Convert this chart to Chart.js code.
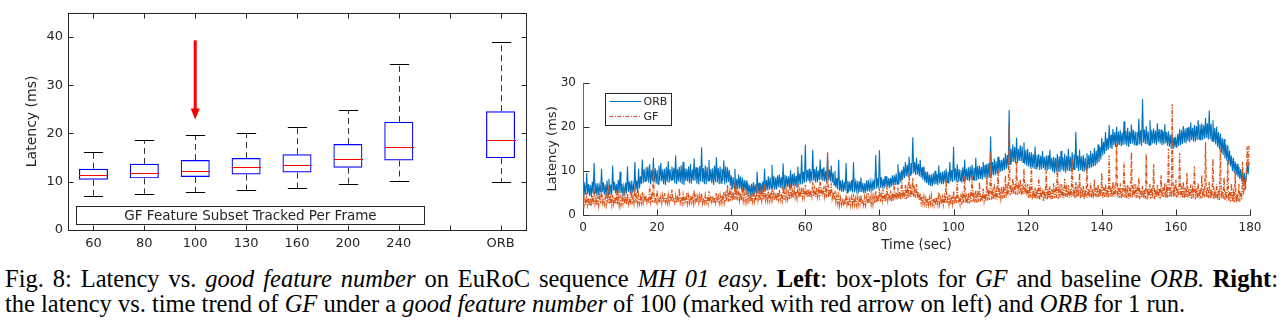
<!DOCTYPE html>
<html>
<head>
<meta charset="utf-8">
<title>Latency vs. good feature number</title>
<script src="https://cdn.jsdelivr.net/npm/chart.js@4.4.1/dist/chart.umd.min.js"></script>
<style>
  html, body { margin: 0; padding: 0; background: #fff; }
  body { width: 1283px; height: 324px; position: relative; overflow: hidden; }
  #boxChart { position: absolute; left: 0; top: 0; }
  #timeChart { position: absolute; left: 540px; top: 60px; }
  .caption { position: absolute; left: 5px; width: 1273px; font-family: "Liberation Serif", "Times New Roman", serif; font-size: 24.5px; line-height: 25px; color: #000; white-space: nowrap; }
  #cap1 { top: 266px; text-align: justify; text-align-last: justify; white-space: normal; }
  #cap2 { top: 291px; }
</style>
</head>
<body>
<canvas id="boxChart" width="540" height="255"></canvas>
<canvas id="timeChart" width="743" height="195"></canvas>
<div class="caption" id="cap1">Fig. 8: Latency vs. <i>good feature number</i> on EuRoC sequence <i>MH 01 easy</i>. <b>Left</b>: box-plots for <i>GF</i> and baseline <i>ORB</i>. <b>Right</b>:</div>
<div class="caption" id="cap2">the latency vs. time trend of <i>GF</i> under a <i>good feature number</i> of 100 (marked with red arrow on left) and <i>ORB</i> for 1 run.</div>

<script>
// ===== Box-plot data (left) =====
const boxCategories = ['60', '80', '100', '130', '160', '200', '240', '', 'ORB'];
const whiskerLow  = [7.1, 7.5, 7.9, 8.3, 8.7, 9.5, 10.2, null, 10.0];
const quartile1   = [10.4, 10.7, 11.0, 11.5, 11.9, 12.9, 14.4, null, 14.9];
const medians     = [11.4, 11.9, 12.3, 13.0, 13.4, 14.8, 17.2, null, 18.7];
const quartile3   = [12.7, 13.7, 14.5, 14.9, 15.7, 17.8, 22.4, null, 24.6];
const whiskerHigh = [16.1, 18.6, 19.7, 20.1, 21.3, 24.9, 34.3, null, 39.0];
const latencyTicks = [0, 10, 20, 30, 40];

// red arrow marks the GF-100 setting
const arrowCategory = '100';
const arrowFrom = 39.3;
const arrowTo = 22.9;

// ===== Time series data (right), one sample every 0.25 s =====
const sampleStep = 0.25;
const timeTicks = [0, 20, 40, 60, 80, 100, 120, 140, 160, 180];
const orbLatency = [
  7.5,4.2,6.4,4.6, 9.5,4.8,7.0,4.3, 6.8,4.0,7.6,4.9, 11.8,5.0,7.2,4.4, 7.2,4.5,6.6,5.1, 10.5,5.2,7.4,4.6, 6.9,4.3,7.8,4.8, 8.2,4.8,6.9,4.5, 11.2,5.5,7.5,4.9, 7.0,4.6,8.0,5.0,
  9.8,5.0,7.1,4.7, 6.5,4.4,7.3,4.9, 11.0,5.3,7.6,4.8, 7.8,4.9,7.0,5.2, 12.0,5.6,7.8,5.0, 10.5,6.0,8.8,7.0, 12.6,7.2,10.4,7.6, 10.8,7.8,11.0,7.3, 11.5,6.9,10.2,7.7, 13.0,7.5,10.6,7.1,
  10.2,7.0,11.2,7.8, 11.8,7.6,10.3,7.0, 10.5,6.8,10.9,7.5, 12.2,7.3,10.4,7.9, 11.0,7.9,10.7,7.2, 13.5,7.0,10.5,7.6, 10.9,7.4,11.3,7.0, 12.0,6.8,10.6,7.7, 10.4,7.6,11.0,7.2, 11.6,7.1,10.3,7.8,
  12.8,7.8,10.8,7.1, 10.7,6.9,11.1,7.6, 15.3,7.5,10.6,7.0, 11.2,7.0,10.9,7.7, 12.5,7.7,10.4,7.2, 10.6,6.8,11.2,7.5, 13.1,7.4,10.7,7.0, 11.0,7.2,10.5,7.8, 12.4,6.9,11.0,7.3, 10.8,7.5,10.2,6.6,
  9.0,5.8,8.6,6.2, 10.5,5.5,8.2,5.9, 9.2,6.0,8.7,5.6, 8.5,5.2,8.0,5.5, 7.8,4.8,7.2,5.0, 6.8,4.2,7.1,4.6, 7.5,4.6,6.9,4.9, 9.8,5.0,7.3,4.7, 7.2,4.8,7.6,5.2, 10.5,5.4,7.9,5.6,
  8.8,5.6,8.5,6.0, 11.4,6.0,8.9,5.7, 8.5,5.8,9.0,6.3, 9.2,6.2,8.6,5.9, 11.7,5.9,9.1,6.4, 8.9,6.3,8.7,6.0, 10.2,6.0,9.3,6.6, 9.5,6.5,8.9,6.2, 11.0,6.8,9.4,6.9, 13.6,7.0,9.8,7.3,
  16.0,7.5,10.2,7.8, 10.5,7.2,9.9,7.6, 14.8,7.8,10.4,7.4, 11.0,7.4,10.1,7.9, 12.6,8.0,10.5,7.7, 10.8,7.6,10.0,7.3, 13.8,7.9,10.3,7.6, 11.2,7.3,9.6,6.8, 10.0,6.2,8.4,5.8, 12.5,5.5,7.8,5.3,
  8.0,5.2,7.5,5.5, 11.8,5.0,7.7,5.3, 7.6,5.4,7.9,5.1, 12.0,5.1,7.4,5.6, 7.8,4.8,7.6,5.2, 8.5,5.2,7.3,5.0, 7.2,5.0,7.8,5.4, 8.0,5.3,7.5,5.6, 7.5,5.5,8.0,5.8, 13.6,6.0,8.3,6.2,
  14.7,6.2,8.6,6.0, 8.2,6.0,8.8,6.4, 8.8,6.3,8.4,6.1, 8.5,6.5,9.0,6.7, 9.0,6.8,9.4,7.0, 11.5,7.0,9.8,7.5, 10.2,8.0,11.0,8.4, 12.0,8.8,11.4,8.6, 13.2,9.0,11.8,9.3, 17.6,9.5,12.0,9.1,
  13.0,9.2,11.6,8.8, 12.5,8.5,10.8,8.0, 11.0,7.5,9.9,7.2, 9.8,6.8,9.2,6.6, 9.2,6.5,9.5,6.9, 10.0,7.0,9.3,6.8, 11.2,7.2,9.7,7.0, 9.8,7.0,10.1,7.3, 10.5,7.4,9.8,7.1, 12.0,7.6,10.2,7.5,
  15.5,7.8,10.6,7.6, 11.5,7.5,10.4,7.8, 10.2,7.3,10.8,7.5, 12.6,7.8,10.5,7.9, 10.8,7.6,11.0,8.0, 11.4,8.0,10.7,7.7, 13.0,7.8,11.1,8.2, 11.2,8.2,10.9,8.0, 12.0,8.5,11.4,8.3, 11.6,8.3,11.8,8.6,
  17.8,8.8,12.0,9.0, 12.8,9.0,12.2,9.3, 13.2,9.5,12.5,9.8, 12.5,10.0,13.0,10.2, 14.0,10.5,13.6,10.8, 23.8,11.5,15.0,12.0, 16.0,12.0,15.4,11.7, 17.5,11.8,15.0,12.3, 15.8,12.2,15.6,11.9, 16.5,11.5,14.8,11.2,
  15.0,11.0,14.2,10.7, 14.2,10.8,13.8,10.5, 15.5,10.5,13.6,10.9, 13.8,10.2,13.4,10.4, 14.5,10.6,13.2,10.1, 13.5,10.0,13.5,10.4, 14.8,10.3,13.0,9.8, 13.2,9.5,12.9,10.0, 13.8,9.8,13.3,9.7, 14.5,10.2,13.1,9.9,
  13.9,9.6,13.4,10.1, 15.0,10.0,13.2,9.8, 14.2,10.4,13.7,10.2, 18.9,10.6,13.5,10.0, 14.8,10.2,13.3,9.9, 13.6,9.8,13.0,10.3, 14.0,10.5,13.6,10.6, 14.5,10.8,14.0,11.0, 15.2,11.2,14.6,11.6, 16.0,12.0,15.4,12.6,
  17.5,13.5,16.6,13.9, 18.8,14.5,17.4,14.8, 20.4,15.2,18.2,15.0, 19.5,15.8,18.8,15.4, 20.0,15.5,19.0,15.9, 19.2,15.6,18.7,15.9, 21.2,16.0,19.1,15.7, 19.8,15.4,18.9,16.1, 20.5,16.2,19.3,15.8, 19.0,15.8,18.8,16.0,
  21.8,16.0,19.2,15.7, 26.3,16.4,19.4,16.1, 20.2,16.0,19.0,15.8, 21.5,15.8,19.3,16.2, 19.6,16.2,19.1,15.9, 20.8,16.5,19.5,16.2, 19.4,15.9,19.0,16.0, 20.6,16.3,18.8,15.7, 19.0,15.5,18.2,15.2, 18.5,15.0,17.6,15.3,
  17.2,15.2,18.4,15.6, 19.5,15.8,19.2,16.1, 20.2,16.4,19.6,16.3, 19.8,16.8,20.0,16.5, 21.0,17.0,19.8,16.7, 20.4,16.6,20.2,17.0, 21.5,17.2,20.5,16.9, 20.8,17.0,20.4,17.3, 22.0,17.5,20.8,17.1, 23.7,17.2,20.6,16.8,
  21.5,16.5,19.8,16.0, 20.0,15.5,18.8,15.0, 18.5,14.0,17.5,13.6, 17.2,12.8,16.0,12.3, 15.8,11.5,14.6,11.0, 13.5,10.0,13.0,9.6, 12.2,9.0,11.6,8.6, 11.0,8.2,10.4,7.6, 10.0,6.8,9.5,7.2, 8.5,11.5,9.2,12.0
];
const gfLatency = [
  4.2,2.0,3.6,2.3, 5.0,2.4,3.9,2.1, 3.8,2.0,4.3,2.5, 5.8,2.6,3.7,2.2, 4.4,2.2,4.1,2.6, 6.2,2.8,3.8,2.4, 4.0,2.3,4.4,2.7, 6.8,2.5,4.0,2.3, 4.6,2.6,3.9,2.5, 5.5,2.4,4.2,2.2,
  4.2,2.3,3.8,2.6, 6.0,2.5,4.3,2.4, 4.8,2.6,3.9,2.3, 5.6,2.4,4.1,2.7, 6.4,2.8,4.4,2.5, 4.5,2.6,4.0,2.8, 5.2,2.8,4.2,3.0, 4.4,2.9,3.9,2.7, 6.5,3.0,4.3,2.9, 11.0,2.8,4.0,3.0,
  5.5,3.0,4.1,2.8, 4.2,2.7,4.4,2.9, 5.0,2.9,3.9,2.7, 4.5,2.8,4.2,3.0, 5.8,3.0,4.0,2.8, 4.3,2.7,4.5,2.9, 6.0,2.9,4.1,2.7, 4.6,2.8,3.8,3.0, 5.1,2.7,4.3,2.8, 4.4,2.9,4.0,2.7,
  5.6,3.0,4.2,2.8, 4.2,2.8,4.4,2.9, 4.9,2.7,3.9,2.8, 4.5,2.9,4.1,2.7, 5.4,2.8,4.3,3.0, 4.3,2.7,4.0,2.8, 5.0,2.9,4.2,2.7, 4.4,2.8,4.5,3.0, 5.2,3.0,4.6,3.1, 6.8,3.0,5.0,3.2,
  6.5,3.2,5.2,3.4, 7.2,3.5,5.4,3.3, 5.8,3.4,5.0,3.2, 6.4,3.3,4.8,3.1, 5.0,3.0,4.6,3.2, 4.8,3.0,4.4,3.1, 5.5,3.1,4.5,3.3, 6.8,3.4,4.7,3.2, 5.2,3.2,4.9,3.4, 7.0,3.5,4.8,3.3,
  5.4,3.3,5.0,3.5, 6.2,3.6,4.9,3.4, 5.0,3.2,5.1,3.6, 5.8,3.5,4.8,3.3, 6.5,3.4,5.2,3.7, 5.6,3.6,5.0,3.5, 7.2,3.8,5.4,3.9, 6.0,4.0,5.3,3.8, 7.0,3.9,5.6,4.1, 6.4,4.0,5.5,4.2,
  6.8,4.2,5.8,4.0, 5.9,4.0,5.6,4.3, 7.5,4.3,6.0,4.1, 6.2,4.1,5.7,4.4, 8.0,4.4,6.1,4.2, 6.6,4.2,5.9,4.0, 14.2,4.0,5.8,4.1, 7.2,3.8,5.2,3.4, 5.5,3.0,4.4,2.6, 4.4,2.2,3.8,2.4,
  3.8,2.0,3.6,2.3, 4.6,2.3,3.5,2.1, 3.6,2.1,3.9,2.4, 4.8,2.4,3.7,2.2, 3.9,2.2,3.8,2.5, 4.5,2.5,3.6,2.3, 4.0,2.3,4.0,2.6, 5.0,2.6,3.9,2.4, 4.2,2.4,4.2,2.7, 5.4,2.8,4.4,3.0,
  6.2,3.0,4.6,3.2, 5.8,3.2,4.8,3.1, 6.5,3.4,4.9,3.3, 5.6,3.0,5.0,3.2, 7.0,3.5,5.2,3.4, 6.2,3.6,5.4,3.5, 8.2,3.8,5.6,3.7, 6.8,3.6,5.8,3.9, 9.5,4.0,6.0,4.1, 8.4,4.2,5.8,3.9,
  7.0,3.8,5.2,3.4, 5.0,2.8,4.2,2.6, 4.2,2.5,3.8,2.4, 3.8,2.3,3.9,2.5, 4.4,2.4,3.7,2.3, 3.9,2.2,4.0,2.5, 5.2,2.5,3.8,2.4, 4.0,2.3,4.1,2.6, 8.0,2.6,3.9,2.4, 4.6,2.4,4.2,2.6,
  5.4,2.5,4.3,2.7, 7.8,2.7,4.1,2.5, 4.8,2.4,4.4,2.8, 8.8,2.8,4.2,2.6, 5.0,2.6,4.5,2.9, 9.2,3.0,4.6,2.8, 5.6,2.8,4.7,3.0, 7.5,3.0,4.5,3.2, 6.0,3.2,4.8,3.1, 8.5,3.3,5.0,3.4,
  14.2,3.5,5.2,3.6, 7.0,3.6,5.4,3.5, 10.5,3.8,5.3,3.7, 6.5,3.7,5.6,3.9, 9.0,4.0,6.0,4.3, 20.3,4.5,6.8,4.8, 8.3,4.8,7.0,4.6, 12.0,4.6,6.6,4.9, 8.0,4.5,6.9,4.7, 10.5,4.8,6.4,4.4,
  7.0,3.8,5.8,4.0, 11.5,3.5,5.6,3.8, 6.2,3.6,5.9,3.7, 8.5,3.4,5.5,3.9, 6.0,3.2,5.7,3.6, 10.0,3.5,5.4,3.8, 6.5,3.6,5.8,3.7, 7.2,3.8,5.6,3.9, 12.0,3.7,5.9,4.0, 7.0,4.0,5.7,3.8,
  8.2,4.2,6.0,3.9, 6.8,3.9,5.8,4.1, 13.0,4.1,6.1,3.8, 7.5,4.0,5.9,4.2, 9.5,3.8,6.2,4.0, 6.6,3.6,5.8,3.9, 11.0,3.9,6.0,4.1, 7.2,4.0,5.9,3.8, 8.0,4.2,6.2,4.0, 6.8,4.0,6.0,4.2,
  9.5,3.8,6.3,4.1, 7.0,4.0,6.1,3.9, 13.5,4.2,6.4,4.0, 7.5,4.1,6.0,4.3, 16.0,4.0,6.2,3.9, 7.2,3.8,6.1,4.1, 12.0,4.0,5.9,3.8, 6.8,3.7,6.2,4.0, 14.2,3.9,6.0,4.2, 7.0,3.8,5.8,4.0,
  8.5,3.6,6.0,3.9, 6.6,3.8,5.7,3.7, 13.8,3.5,5.9,4.0, 7.0,3.7,6.1,3.8, 11.5,3.6,5.8,4.0, 6.8,3.9,6.0,3.7, 9.0,4.0,6.2,4.1, 7.2,3.8,5.9,3.9, 15.0,4.2,6.3,4.0, 25.1,4.0,6.0,4.2,
  8.0,3.9,6.1,4.0, 14.0,4.1,5.9,3.8, 7.5,3.8,6.2,4.1, 9.5,4.0,6.0,3.9, 6.9,3.7,5.8,4.0, 11.0,3.6,6.1,3.8, 7.2,3.8,5.9,3.7, 9.0,3.9,6.0,4.0, 16.5,4.0,6.2,3.8, 7.5,3.8,5.8,3.9,
  12.8,3.6,5.7,3.7, 7.0,3.5,5.6,3.4, 15.0,3.8,5.8,3.6, 8.5,3.4,5.4,3.3, 12.5,3.2,5.2,3.0, 7.2,3.0,5.0,2.9, 9.8,2.8,4.8,3.0, 7.0,3.0,5.5,3.6, 12.0,4.5,8.0,5.5, 9.5,15.5,11.0,16.0
];

const AXIS_TEXT = '#262626';
const ORB_BLUE = '#0072BD';
const GF_ORANGE = '#D95319';

// ===== Box plot extras: whiskers, medians, arrow, frame =====
const boxPlotPlugin = {
  id: 'boxPlotExtras',
  afterDatasetsDraw(chart) {
    const { ctx, chartArea: area, scales: { x, y } } = chart;
    const step = x.getPixelForValue(1) - x.getPixelForValue(0);
    const halfBox = step * 0.285;
    const halfCap = step * 0.19;
    ctx.save();

    boxCategories.forEach((cat, i) => {
      if (medians[i] == null) return;
      const cx = Math.round(x.getPixelForValue(i)) + 0.5;

      // dashed whiskers
      ctx.strokeStyle = '#333';
      ctx.lineWidth = 1;
      ctx.setLineDash([6, 4]);
      ctx.beginPath();
      ctx.moveTo(cx, y.getPixelForValue(quartile3[i]));
      ctx.lineTo(cx, y.getPixelForValue(whiskerHigh[i]));
      ctx.moveTo(cx, y.getPixelForValue(quartile1[i]));
      ctx.lineTo(cx, y.getPixelForValue(whiskerLow[i]));
      ctx.stroke();

      // caps
      ctx.setLineDash([]);
      ctx.strokeStyle = '#000';
      ctx.beginPath();
      [whiskerHigh[i], whiskerLow[i]].forEach(v => {
        const py = Math.round(y.getPixelForValue(v)) + 0.5;
        ctx.moveTo(cx - halfCap, py);
        ctx.lineTo(cx + halfCap, py);
      });
      ctx.stroke();

      // median
      const my = Math.round(y.getPixelForValue(medians[i])) + 0.5;
      ctx.strokeStyle = '#ff0000';
      ctx.beginPath();
      ctx.moveTo(cx - halfBox, my);
      ctx.lineTo(cx + halfBox, my);
      ctx.stroke();
    });

    // red arrow
    const ax = x.getPixelForValue(boxCategories.indexOf(arrowCategory));
    const yFrom = y.getPixelForValue(arrowFrom);
    const yTip = y.getPixelForValue(arrowTo);
    ctx.strokeStyle = '#ff0000';
    ctx.fillStyle = '#ff0000';
    ctx.lineWidth = 3;
    ctx.beginPath();
    ctx.moveTo(ax, yFrom);
    ctx.lineTo(ax, yTip - 8);
    ctx.stroke();
    ctx.beginPath();
    ctx.moveTo(ax - 4.5, yTip - 11);
    ctx.lineTo(ax + 4.5, yTip - 11);
    ctx.lineTo(ax, yTip);
    ctx.closePath();
    ctx.fill();

    // label box along the bottom
    const bx1 = Math.round(x.getPixelForValue(-0.34)) + 0.5;
    const bx2 = Math.round(x.getPixelForValue(6.5)) + 0.5;
    const by1 = Math.round(y.getPixelForValue(4.94)) + 0.5;
    const by2 = Math.round(y.getPixelForValue(1.16)) + 0.5;
    ctx.lineWidth = 1;
    ctx.strokeStyle = '#262626';
    ctx.strokeRect(bx1, by1, bx2 - bx1, by2 - by1);
    ctx.fillStyle = AXIS_TEXT;
    ctx.font = '13.5px "DejaVu Sans"';
    ctx.textAlign = 'center';
    ctx.textBaseline = 'middle';
    ctx.fillText('GF Feature Subset Tracked Per Frame', (bx1 + bx2) / 2, (by1 + by2) / 2 + 1);

    // frame with inward ticks
    const L = Math.round(area.left) + 0.5, R = Math.round(area.right) + 0.5;
    const T = Math.round(area.top) + 0.5, B = Math.round(area.bottom) + 0.5;
    ctx.strokeStyle = '#262626';
    ctx.strokeRect(L, T, R - L, B - T);
    ctx.beginPath();
    latencyTicks.forEach(v => {
      const py = Math.round(y.getPixelForValue(v)) + 0.5;
      ctx.moveTo(L, py); ctx.lineTo(L + 5, py);
      ctx.moveTo(R, py); ctx.lineTo(R - 5, py);
    });
    boxCategories.forEach((c, i) => {
      const px = Math.round(x.getPixelForValue(i)) + 0.5;
      ctx.moveTo(px, B); ctx.lineTo(px, B - 5);
      ctx.moveTo(px, T); ctx.lineTo(px, T + 5);
    });
    ctx.stroke();
    ctx.restore();
  }
};

new Chart(document.getElementById('boxChart'), {
  type: 'bar',
  data: {
    labels: boxCategories,
    datasets: [{
      data: quartile1.map((v, i) => v == null ? null : [v, quartile3[i]]),
      backgroundColor: 'rgba(0,0,0,0)',
      borderColor: '#0000ff',
      borderWidth: 1.2,
      borderSkipped: false,
      categoryPercentage: 1,
      barPercentage: 0.57
    }]
  },
  options: {
    responsive: false,
    animation: false,
    layout: { padding: { top: 9, right: 14, left: 0, bottom: 0 } },
    plugins: { legend: { display: false }, tooltip: { enabled: false } },
    scales: {
      x: {
        grid: { display: false, drawTicks: false },
        border: { display: false },
        ticks: { color: AXIS_TEXT, font: { family: 'DejaVu Sans', size: 13 }, padding: 6, maxRotation: 0, autoSkip: false },
        afterFit: s => { s.height = 25; }
      },
      y: {
        min: 0,
        max: 45,
        grid: { display: false, drawTicks: false },
        border: { display: false },
        afterBuildTicks: s => { s.ticks = latencyTicks.map(v => ({ value: v })); },
        ticks: { color: AXIS_TEXT, font: { family: 'DejaVu Sans', size: 13 }, padding: 5 },
        title: { display: true, text: 'Latency (ms)', color: AXIS_TEXT, font: { family: 'DejaVu Sans', size: 14 }, padding: { top: 23.6 } },
        afterFit: s => { s.width = 68; }
      }
    }
  },
  plugins: [boxPlotPlugin]
});

// ===== Time series axes + legend =====
const timeAxesPlugin = {
  id: 'timeAxes',
  afterDraw(chart) {
    const { ctx, chartArea: area, scales: { x, y } } = chart;
    const L = Math.round(area.left) + 0.5, B = Math.round(area.bottom) + 0.5;
    ctx.save();
    ctx.lineWidth = 1;
    ctx.strokeStyle = '#666';
    ctx.beginPath();
    ctx.moveTo(L, Math.round(area.top));
    ctx.lineTo(L, B);
    ctx.lineTo(Math.round(area.right) + 1, B);
    ctx.stroke();
    ctx.strokeStyle = '#333';
    ctx.beginPath();
    latencyTicks.slice(0, 4).forEach(v => {
      const py = Math.round(y.getPixelForValue(v)) + 0.5;
      ctx.moveTo(L, py); ctx.lineTo(L + 6, py);
    });
    timeTicks.forEach(t => {
      const px = Math.round(x.getPixelForValue(t)) + 0.5;
      ctx.moveTo(px, B); ctx.lineTo(px, B - 6);
    });
    ctx.stroke();

    // legend box in the upper left
    const lx = Math.round(area.left + 21.6) + 0.5;
    const ly = Math.round(area.top + 10.6) + 0.5;
    ctx.fillStyle = '#fff';
    ctx.fillRect(lx, ly, 66, 32);
    ctx.strokeStyle = '#262626';
    ctx.strokeRect(lx, ly, 66, 32);
    ctx.lineWidth = 1;
    ctx.strokeStyle = ORB_BLUE;
    ctx.beginPath();
    ctx.moveTo(lx + 4, ly + 8); ctx.lineTo(lx + 36, ly + 8);
    ctx.stroke();
    ctx.strokeStyle = GF_ORANGE;
    ctx.setLineDash([4, 1.5, 1, 1.5]);
    ctx.beginPath();
    ctx.moveTo(lx + 4, ly + 23); ctx.lineTo(lx + 36, ly + 23);
    ctx.stroke();
    ctx.setLineDash([]);
    ctx.fillStyle = AXIS_TEXT;
    ctx.font = '11px "DejaVu Sans"';
    ctx.textAlign = 'left';
    ctx.textBaseline = 'middle';
    ctx.fillText('ORB', lx + 38, ly + 8.5);
    ctx.fillText('GF', lx + 38, ly + 23.5);
    ctx.restore();
  }
};

new Chart(document.getElementById('timeChart'), {
  type: 'line',
  data: {
    datasets: [
      {
        label: 'ORB',
        data: orbLatency.map((v, i) => ({ x: i * sampleStep, y: v })),
        borderColor: ORB_BLUE,
        borderWidth: 1.1,
        pointRadius: 0,
        tension: 0,
        order: 2
      },
      {
        label: 'GF',
        data: gfLatency.map((v, i) => ({ x: i * sampleStep, y: v })),
        borderColor: GF_ORANGE,
        borderWidth: 1.3,
        borderDash: [4, 1.5, 1, 1.5],
        pointRadius: 0,
        tension: 0,
        order: 1
      }
    ]
  },
  options: {
    responsive: false,
    animation: false,
    layout: { padding: { top: 22.7, right: 33, left: 0, bottom: 0 } },
    plugins: { legend: { display: false }, tooltip: { enabled: false } },
    scales: {
      x: {
        type: 'linear',
        min: 0,
        max: 180,
        grid: { display: false, drawTicks: false },
        border: { display: false },
        afterBuildTicks: s => { s.ticks = timeTicks.map(v => ({ value: v })); },
        ticks: { color: AXIS_TEXT, font: { family: 'DejaVu Sans', size: 12 }, padding: 6, maxRotation: 0 },
        title: { display: true, text: 'Time (sec)', color: AXIS_TEXT, font: { family: 'DejaVu Sans', size: 13.5 }, padding: { bottom: 1 } },
        afterFit: s => { s.height = 40; }
      },
      y: {
        min: 0,
        max: 30,
        grid: { display: false, drawTicks: false },
        border: { display: false },
        afterBuildTicks: s => { s.ticks = latencyTicks.slice(0, 4).map(v => ({ value: v })); },
        ticks: { color: AXIS_TEXT, font: { family: 'DejaVu Sans', size: 12 }, padding: 7 },
        title: { display: true, text: 'Latency (ms)', color: AXIS_TEXT, font: { family: 'DejaVu Sans', size: 13 }, padding: { top: 5 } },
        afterFit: s => { s.width = 43; }
      }
    }
  },
  plugins: [timeAxesPlugin]
});
</script>
</body>
</html>
